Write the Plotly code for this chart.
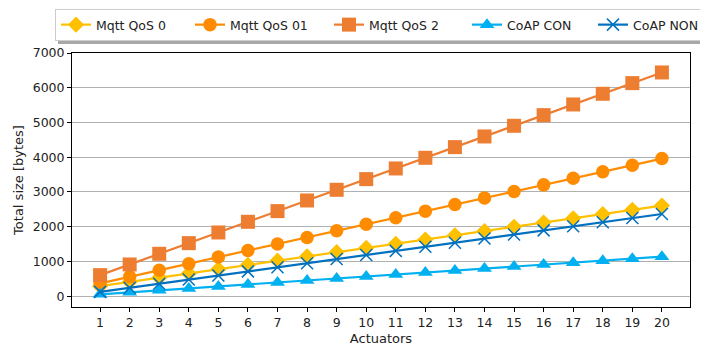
import plotly.graph_objects as go

actuators = list(range(1, 21))
mqtt_qos0 = [290, 412, 534, 656, 778, 900, 1022, 1144, 1266, 1388, 1510, 1632, 1754, 1876, 1998, 2120, 2242, 2364, 2486, 2608]
mqtt_qos01 = [370, 559, 748, 937, 1126, 1315, 1504, 1693, 1882, 2071, 2260, 2449, 2638, 2827, 3016, 3205, 3394, 3583, 3772, 3961]
mqtt_qos2 = [607, 914, 1221, 1528, 1835, 2142, 2449, 2756, 3063, 3370, 3677, 3984, 4291, 4598, 4905, 5212, 5519, 5826, 6133, 6440]
coap_con = [55, 112, 169, 226, 283, 340, 397, 454, 511, 568, 625, 682, 739, 796, 853, 910, 967, 1024, 1081, 1138]
coap_non = [125, 243, 361, 479, 597, 715, 833, 951, 1069, 1187, 1305, 1423, 1541, 1659, 1777, 1895, 2013, 2131, 2249, 2367]
yticks = [0, 1000, 2000, 3000, 4000, 5000, 6000, 7000]

# name, values, colour, symbol, marker size, legend entry width
series = [
    ("Mqtt QoS 0", mqtt_qos0, "#FFC000", "diamond", 12.5, 89),
    ("Mqtt QoS 01", mqtt_qos01, "#FF8C00", "circle", 13.5, 94),
    ("Mqtt QoS 2", mqtt_qos2, "#ED7D31", "square", 14, 93),
    ("CoAP CON", coap_con, "#00B0F0", "triangle-up", 13, 81),
    ("CoAP NON", coap_non, "#0070C0", "x-thin", 12, 66),
]

W, H = 700, 344
ML, MR, MT, MB = 64, 18, 45, 45
PW, PH = W - ML - MR, H - MT - MB

fig = go.Figure()
for name, vals, color, sym, size, lw in series:
    marker = dict(symbol=sym, size=size, color=color)
    if sym == "x-thin":
        marker["line"] = dict(color=color, width=1.5)
    fig.add_trace(go.Scatter(x=actuators, y=vals, name=name, mode="lines+markers",
                             line=dict(color=color, width=2.2), marker=marker,
                             legendwidth=lw))

axis_common = dict(showline=True, linecolor="black", linewidth=1, mirror=True,
                   ticks="outside", ticklen=4, tickcolor="black",
                   tickfont=dict(size=12.5, color="#222"), zeroline=False)

fig.update_xaxes(range=[0.05, 20.95], tickmode="array", tickvals=actuators,
                 showgrid=False, title=dict(text="Actuators", font=dict(size=13, color="#222"), standoff=4),
                 **axis_common)
fig.update_yaxes(range=[-310, 7000], tickmode="array", tickvals=yticks,
                 showgrid=True, gridcolor="#b0b0b0", gridwidth=1,
                 title=dict(text="Total size [bytes]", font=dict(size=13, color="#222"), standoff=6),
                 **axis_common)

# legend drop shadow
fig.add_shape(type="rect", xref="paper", yref="paper",
              x0=(50 - ML) / PW, x1=(700 - ML) / PW,
              y0=(MT + PH - 36) / PH, y1=(MT + PH - 4) / PH,
              fillcolor="#a8a8a8", line=dict(width=0), layer="above")

fig.update_layout(
    width=W, height=H,
    margin=dict(l=ML, r=MR, t=MT, b=MB, autoexpand=False),
    paper_bgcolor="white", plot_bgcolor="white",
    font=dict(family="DejaVu Sans", size=12, color="#222"),
    legend=dict(orientation="h", x=(47 - ML) / PW, xanchor="left",
                y=(MT + PH - 1) / PH, yanchor="top",
                bgcolor="white", bordercolor="#cccccc", borderwidth=1,
                font=dict(size=12.5), itemwidth=30, tracegroupgap=0),
    showlegend=True,
)

fig.write_html("out.html")
